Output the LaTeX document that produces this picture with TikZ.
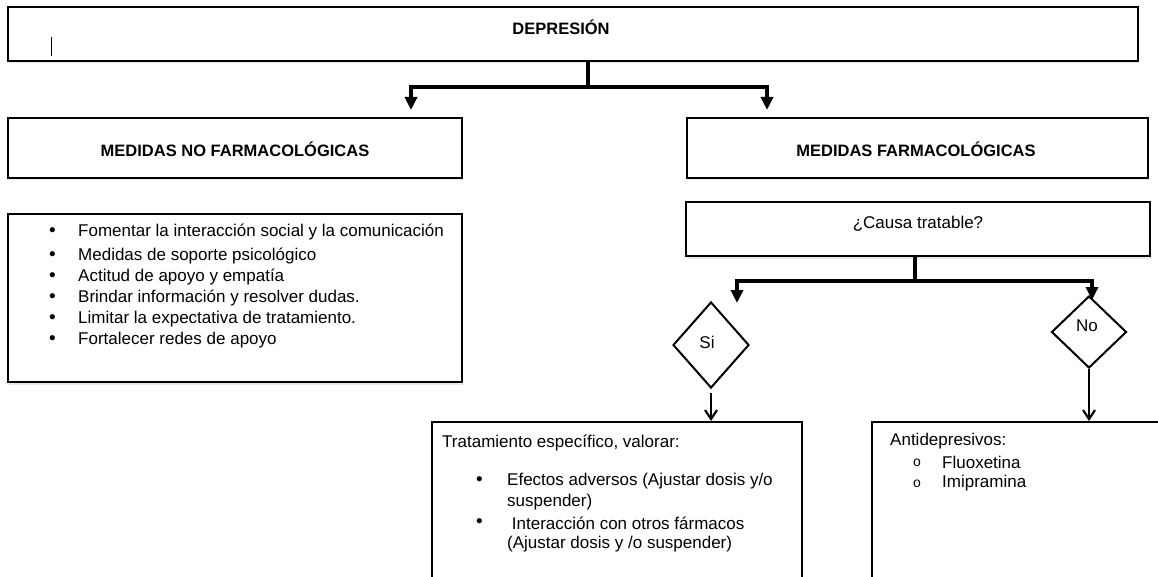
\documentclass[tikz,border=0pt]{standalone}
\usepackage{fontspec}
\setmainfont{Liberation Sans}
\usetikzlibrary{arrows.meta,shapes.geometric,shadows}
\tikzset{
  boxwh/.style 2 args={draw=black,line width=2pt,inner sep=0pt,
    minimum width=#1,minimum height=#2,fill=white,
    drop shadow={opacity=0.18,shadow xshift=0.5pt,shadow yshift=-2.5pt}},
  openbox/.style 2 args={draw=black,line width=2pt,inner sep=0pt,
    minimum width=#1,minimum height=#2},
  decision/.style 2 args={diamond,draw=black,line width=2pt,inner sep=0pt,
    minimum width=#1,minimum height=#2},
  txt/.style={inner sep=0pt,font=\fontsize{17}{20}\selectfont},
  btxt/.style={inner sep=0pt,font=\bfseries\fontsize{16.5}{20}\selectfont},
  trunk/.style={line width=4.5pt},
  conn/.style={line width=3.5pt,-{Triangle[width=12pt,length=13pt]}},
  sarrow/.style={line width=2.2pt,-{Straight Barb[length=9pt,width=12pt]}}
}
\begin{document}
\begin{tikzpicture}[x=1pt,y=-1pt]
\useasboundingbox (0,0) rectangle (1158,577);

% boxes
\node[boxwh={1130pt}{54pt}] (dep) at (573,34) {};
\node[boxwh={454pt}{60pt}] (nofarm) at (235,148) {};
\node[boxwh={461pt}{60pt}] (farm) at (917.5,148) {};
\node[boxwh={454pt}{168pt}] (lista) at (235,298) {};
\node[boxwh={464pt}{54pt}] (causa) at (918,229) {};
\node[decision={76pt}{86pt}] (si) at (711,345) {};
\node[decision={75pt}{72pt}] (no) at (1089,332) {};
\node[openbox={370pt}{200pt}] (trat) at (617,522) {};
\node[openbox={328pt}{200pt}] (anti) at (1036,522) {};

% cursor mark
\draw[line width=0.9pt] (51,37) -- (51,56);

% texts
\node[btxt] (tdep) at (561,27) {DEPRESIÓN};
\node[btxt] (tnofarm) at (235,149) {MEDIDAS NO FARMACOLÓGICAS};
\node[btxt] (tfarm) at (916,149) {MEDIDAS FARMACOLÓGICAS};
\node[txt] (tcausa) at (918,224) {¿Causa tratable?};
\node[txt] (tsi) at (707,342) {Si};
\node[txt] (tno) at (1087,326) {No};

\foreach \yy/\tt [count=\i] in {
  232/Fomentar la interacción social y la comunicación,
  256/Medidas de soporte psicológico,
  277/Actitud de apoyo y empatía,
  298/Brindar información y resolver dudas.,
  319/Limitar la expectativa de tratamiento.,
  340/Fortalecer redes de apoyo}{
  \node[txt,anchor=west,font=\fontsize{19}{20}\selectfont] (lb\i) at (49,\yy) {•};
  \node[txt,anchor=west] (lt\i) at (78,\yy) {\tt};
}

\node[txt,anchor=west] (ttrat) at (442,443) {Tratamiento específico, valorar:};
\node[txt,anchor=west,font=\fontsize{19}{20}\selectfont] (tb1) at (476,481) {•};
\node[txt,anchor=west] (tl1) at (507,481) {Efectos adversos (Ajustar dosis y/o};
\node[txt,anchor=west] (tl2) at (507,502) {suspender)};
\node[txt,anchor=west,font=\fontsize{19}{20}\selectfont] (tb2) at (476,523) {•};
\node[txt,anchor=west] (tl3) at (507,523) {\ Interacción con otros fármacos};
\node[txt,anchor=west] (tl4) at (507,544) {(Ajustar dosis y /o suspender)};

\node[txt,anchor=west] (tanti) at (890,441) {Antidepresivos:};
\node[inner sep=0pt,anchor=west,font=\fontsize{14}{16}\selectfont] (ob1) at (913,463) {o};
\node[txt,anchor=west] (fl) at (942,462) {Fluoxetina};
\node[inner sep=0pt,anchor=west,font=\fontsize{14}{16}\selectfont] (ob2) at (913,484) {o};
\node[txt,anchor=west] (im) at (942,483) {Imipramina};

% connectors
\coordinate (jA) at (588,87);
\coordinate (aL) at (411,110);
\coordinate (aR) at (767,110);
\draw[trunk] (dep.south -| jA) -- (jA);
\draw[conn] (jA) -| (aL);
\draw[conn] (jA) -| (aR);

\coordinate (jB) at (915,281);
\coordinate (aSi) at (737,303);
\coordinate (aNo) at (1092,300);
\draw[trunk] (causa.south -| jB) -- (jB);
\draw[conn] (jB) -| (aSi);
\draw[conn] (jB) -| (aNo);

\coordinate (sS) at (711,393);
\draw[sarrow] (sS) -- (sS |- trat.north);
\draw[sarrow] (no.south) -- (no.south |- anti.north);
\end{tikzpicture}
\end{document}
